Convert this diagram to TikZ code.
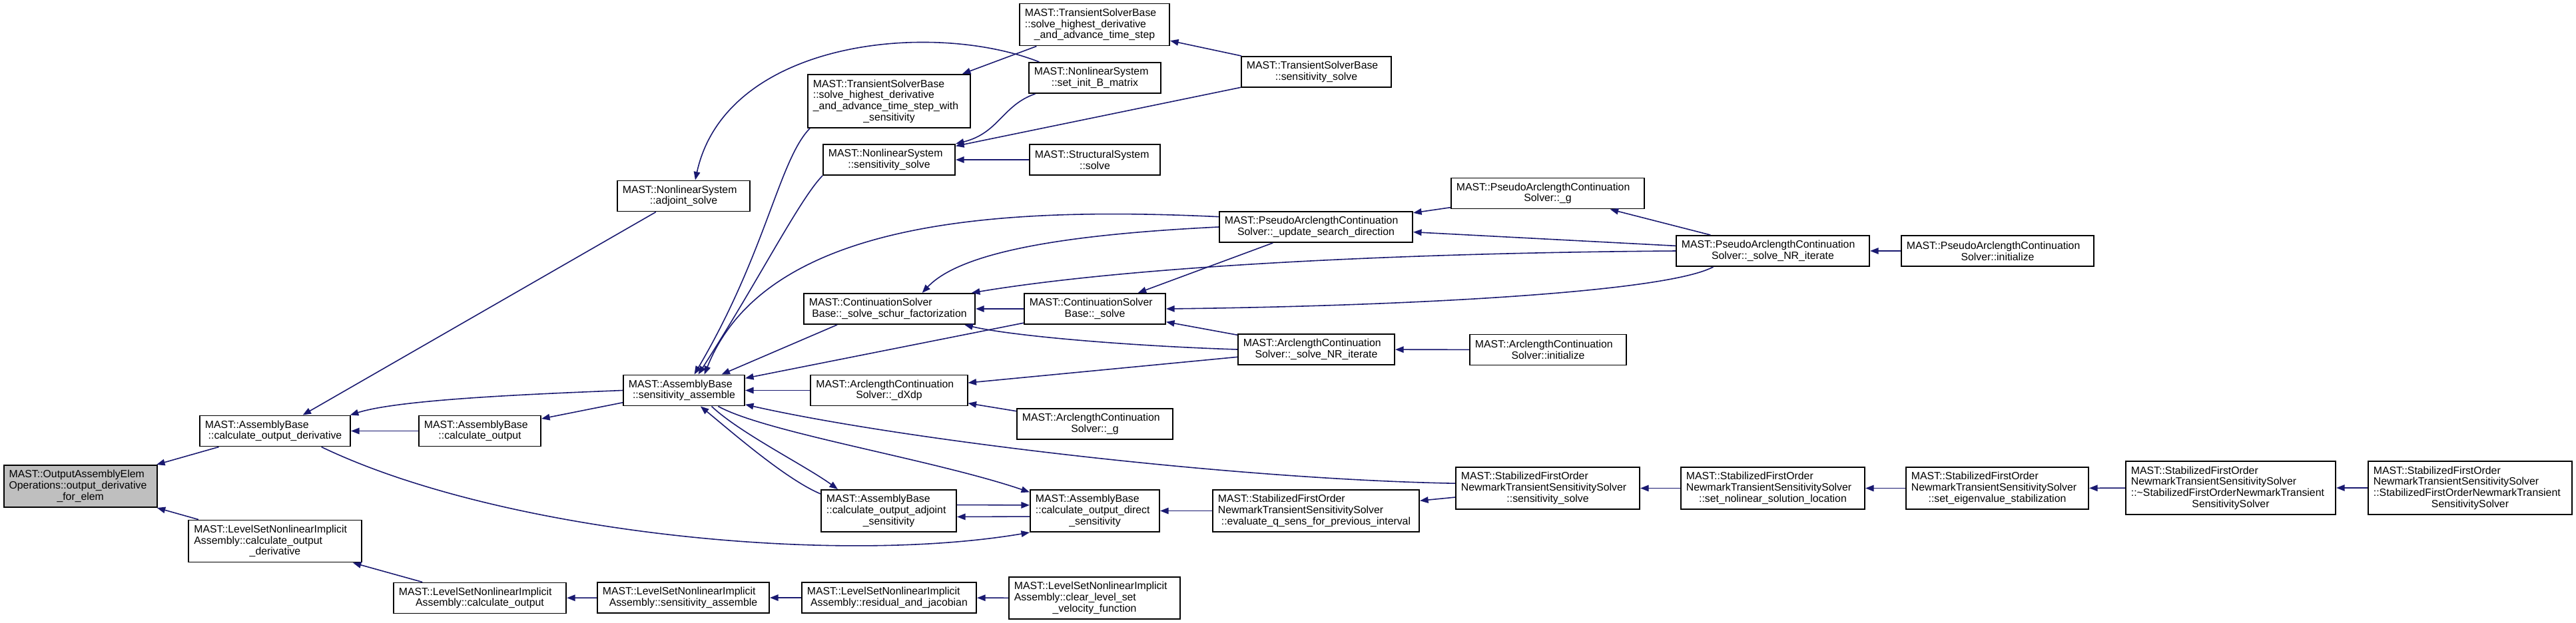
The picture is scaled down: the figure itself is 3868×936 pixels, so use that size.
\documentclass[tikz,border=0pt]{standalone}
\usepackage{fontspec}
\setmainfont{Liberation Sans}
\usepackage{tikz}
\usetikzlibrary{arrows.meta}
\definecolor{edgeblue}{RGB}{25,25,112}
\definecolor{focgray}{RGB}{191,191,191}
\newcommand{\lft}[1]{\leavevmode\hbox to\hsize{#1\hfil}}

\begin{document}
\begin{tikzpicture}[
    x=0.01cm, y=-0.01cm,
    fn/.style={
      rectangle, draw=black, fill=white, line width=0.55pt,
      inner xsep=0.8mm, inner ysep=0pt, align=center,
      font=\fontsize{4.5}{4.75}\selectfont,
    },
    two/.style={minimum height=4.6mm},
    three/.style={minimum height=6.3mm},
    four/.style={minimum height=8mm},
    call/.style={->, draw=edgeblue, line width=0.45pt},
    >={Triangle[length=1.25mm,width=0.95mm]}
  ]

  \path[fill=white, use as bounding box] (0,0) rectangle (3868,936);

  %% --- columns 1 to 3 ---
  \node[fn, three, fill=focgray, text width=2.14cm] (foc) at (120.7,730.5)
    {\lft{MAST::OutputAssemblyElem}\\\lft{Operations::output\_derivative}\\\_for\_elem};
  \node[fn, two, text width=2.10cm] (cod) at (413,647.5)
    {\lft{MAST::AssemblyBase}\\::calculate\_output\_derivative};
  \node[fn, three, text width=2.43cm] (lscod) at (413,813)
    {\lft{MAST::LevelSetNonlinearImplicit}\\\lft{Assembly::calculate\_output}\\\_derivative};
  \node[fn, two, text width=1.67cm] (cout) at (720.5,647.5)
    {\lft{MAST::AssemblyBase}\\::calculate\_output};
  \node[fn, two, text width=2.43cm] (lscout) at (720.5,898.5)
    {\lft{MAST::LevelSetNonlinearImplicit}\\Assembly::calculate\_output};

  %% --- column 4 ---
  \node[fn, two, text width=1.83cm] (adj) at (1026.5,294.5)
    {\lft{MAST::NonlinearSystem}\\::adjoint\_solve};
  \node[fn, two, text width=1.66cm] (sa) at (1027,586.5)
    {\lft{MAST::AssemblyBase}\\::sensitivity\_assemble};
  \node[fn, two, text width=2.42cm] (lssa) at (1026,898)
    {\lft{MAST::LevelSetNonlinearImplicit}\\Assembly::sensitivity\_assemble};

  %% --- column 5 ---
  \node[fn, four, text width=2.28cm] (tsw) at (1335,152)
    {\lft{MAST::TransientSolverBase}\\\lft{::solve\_highest\_derivative}\\\lft{\_and\_advance\_time\_step\_with}\\\_sensitivity};
  \node[fn, two, text width=1.82cm] (nss) at (1335,240)
    {\lft{MAST::NonlinearSystem}\\::sensitivity\_solve};
  \node[fn, two, text width=2.41cm] (schur) at (1335.5,464)
    {\lft{MAST::ContinuationSolver}\\Base::\_solve\_schur\_factorization};
  \node[fn, two, text width=2.19cm] (dxdp) at (1335,586.5)
    {\lft{MAST::ArclengthContinuation}\\Solver::\_dXdp};
  \node[fn, three, text width=1.87cm] (oas) at (1334.5,767.5)
    {\lft{MAST::AssemblyBase}\\\lft{::calculate\_output\_adjoint}\\\_sensitivity};
  \node[fn, two, text width=2.46cm] (lsrj) at (1335,898)
    {\lft{MAST::LevelSetNonlinearImplicit}\\Assembly::residual\_and\_jacobian};

  %% --- column 6 ---
  \node[fn, three, text width=2.09cm] (tst) at (1643.5,37)
    {\lft{MAST::TransientSolverBase}\\\lft{::solve\_highest\_derivative}\\\_and\_advance\_time\_step};
  \node[fn, two, text width=1.82cm] (sib) at (1644,117)
    {\lft{MAST::NonlinearSystem}\\::set\_init\_B\_matrix};
  \node[fn, two, text width=1.80cm] (sss) at (1644,240)
    {\lft{MAST::StructuralSystem}\\::solve};
  \node[fn, two, text width=1.96cm] (csolve) at (1644,464)
    {\lft{MAST::ContinuationSolver}\\Base::\_solve};
  \node[fn, two, text width=2.18cm] (ag) at (1644,637)
    {\lft{MAST::ArclengthContinuation}\\Solver::\_g};
  \node[fn, three, text width=1.78cm] (ods) at (1644,767.5)
    {\lft{MAST::AssemblyBase}\\\lft{::calculate\_output\_direct}\\\_sensitivity};
  \node[fn, three, text width=2.41cm] (lsclr) at (1643.5,898.5)
    {\lft{MAST::LevelSetNonlinearImplicit}\\\lft{Assembly::clear\_level\_set}\\\_velocity\_function};

  %% --- column 7 ---
  \node[fn, two, text width=2.09cm] (tss) at (1976.5,108)
    {\lft{MAST::TransientSolverBase}\\::sensitivity\_solve};
  \node[fn, two, text width=2.74cm] (usd) at (1976,341)
    {\lft{MAST::PseudoArclengthContinuation}\\Solver::\_update\_search\_direction};
  \node[fn, two, text width=2.19cm] (anr) at (1976.5,525)
    {\lft{MAST::ArclengthContinuation}\\Solver::\_solve\_NR\_iterate};
  \node[fn, three, text width=2.94cm] (eqs) at (1976,767.5)
    {\lft{MAST::StabilizedFirstOrder}\\\lft{NewmarkTransientSensitivitySolver}\\::evaluate\_q\_sens\_for\_previous\_interval};

  %% --- columns 8 to 12 ---
  \node[fn, two, text width=2.74cm] (pag) at (2324,290.5)
    {\lft{MAST::PseudoArclengthContinuation}\\Solver::\_g};
  \node[fn, two, text width=2.19cm] (ainit) at (2324.5,525.5)
    {\lft{MAST::ArclengthContinuation}\\Solver::initialize};
  \node[fn, three, text width=2.60cm] (sfss) at (2324,733.5)
    {\lft{MAST::StabilizedFirstOrder}\\\lft{NewmarkTransientSensitivitySolver}\\::sensitivity\_solve};
  \node[fn, two, text width=2.74cm] (panr) at (2662,377)
    {\lft{MAST::PseudoArclengthContinuation}\\Solver::\_solve\_NR\_iterate};
  \node[fn, three, text width=2.60cm] (snl) at (2662,733.5)
    {\lft{MAST::StabilizedFirstOrder}\\\lft{NewmarkTransientSensitivitySolver}\\::set\_nolinear\_solution\_location};
  \node[fn, two, text width=2.73cm] (pinit) at (2999.5,377)
    {\lft{MAST::PseudoArclengthContinuation}\\Solver::initialize};
  \node[fn, three, text width=2.58cm] (sev) at (2999,733.5)
    {\lft{MAST::StabilizedFirstOrder}\\\lft{NewmarkTransientSensitivitySolver}\\::set\_eigenvalue\_stabilization};
  \node[fn, four, text width=2.99cm] (sdtor) at (3349.5,733)
    {\lft{MAST::StabilizedFirstOrder}\\\lft{NewmarkTransientSensitivitySolver}\\\lft{::\textasciitilde StabilizedFirstOrderNewmarkTransient}\\SensitivitySolver};
  \node[fn, four, text width=2.90cm] (sctor) at (3709,733)
    {\lft{MAST::StabilizedFirstOrder}\\\lft{NewmarkTransientSensitivitySolver}\\\lft{::StabilizedFirstOrderNewmarkTransient}\\SensitivitySolver};

  %% --- calls ---
  \draw[call] (cod) -- (foc);
  \draw[call] (lscod) -- (foc);
  \draw[call] (adj) -- (cod);
  \draw[call] (sa.west) .. controls (800,592) and (600,600) .. (cod.12);
  \draw[call] (cout) -- (cod);
  \draw[call] (cod.-19) .. controls (750,800) and (1250,850) .. (ods.south west);
  \draw[call] (sa) -- (cout);
  \draw[call] (sib.164) .. controls (1400,30) and (1090,60) .. (adj.54);
  \draw[call] (tsw.199) .. controls (1170,240) and (1150,380) .. (sa.57);
  \draw[call] (nss.south west) .. controls (1200,300) and (1140,420) .. (sa.48);
  \draw[call] (tst) -- (tsw);
  \draw[call] (tss) -- (tst);
  \draw[call] (tss) -- (nss);
  \draw[call] (sib.195) .. controls (1505,158) and (1500,200) .. (nss.north east);
  \draw[call] (sss) -- (nss);
  \draw[call] (usd.174) .. controls (1500,310) and (1150,330) .. (sa.38);
  \draw[call] (usd.west) .. controls (1650,350) and (1450,370) .. (schur.26);
  \draw[call] (panr.west) .. controls (2100,380) and (1700,400) .. (schur.11);
  \draw[call] (anr.west) .. controls (1700,520) and (1520,505) .. (schur.-12);
  \draw[call] (csolve) -- (schur);
  \draw[call] (usd) -- (csolve);
  \draw[call] (panr.195) .. controls (2500,440) and (2100,460) .. (csolve.east);
  \draw[call] (anr) -- (csolve);
  \draw[call] (csolve) -- (sa);
  \draw[call] (schur.197) -- (sa.23);
  \draw[call] (dxdp) -- (sa);
  \draw[call] (anr) -- (dxdp);
  \draw[call] (ag) -- (dxdp);
  \draw[call] (ainit) -- (anr);
  \draw[call] (pag) -- (usd);
  \draw[call] (panr) -- (usd);
  \draw[call] (panr) -- (pag);
  \draw[call] (pinit) -- (panr);
  \draw[call] (sfss.177) .. controls (1850,720) and (1350,660) .. (sa.-13);
  \draw[call] (sfss) -- (eqs);
  \draw[call] (eqs) -- (ods);
  \draw[call] (sa.-30) .. controls (1110,650) and (1210,700) .. (oas.157);
  \draw[call] (oas.166) .. controls (1180,720) and (1100,650) .. (sa.-44);
  \draw[call] (sa.-25) .. controls (1150,650) and (1400,690) .. (ods.164);
  \draw[call] (oas.5) -- (ods.175);
  \draw[call] (ods.185) -- (oas.-5);
  \draw[call] (lscout) -- (lscod);
  \draw[call] (lssa) -- (lscout);
  \draw[call] (lsrj) -- (lssa);
  \draw[call] (lsclr) -- (lsrj);
  \draw[call] (snl) -- (sfss);
  \draw[call] (sev) -- (snl);
  \draw[call] (sdtor) -- (sev);
  \draw[call] (sctor) -- (sdtor);
\end{tikzpicture}
\end{document}
